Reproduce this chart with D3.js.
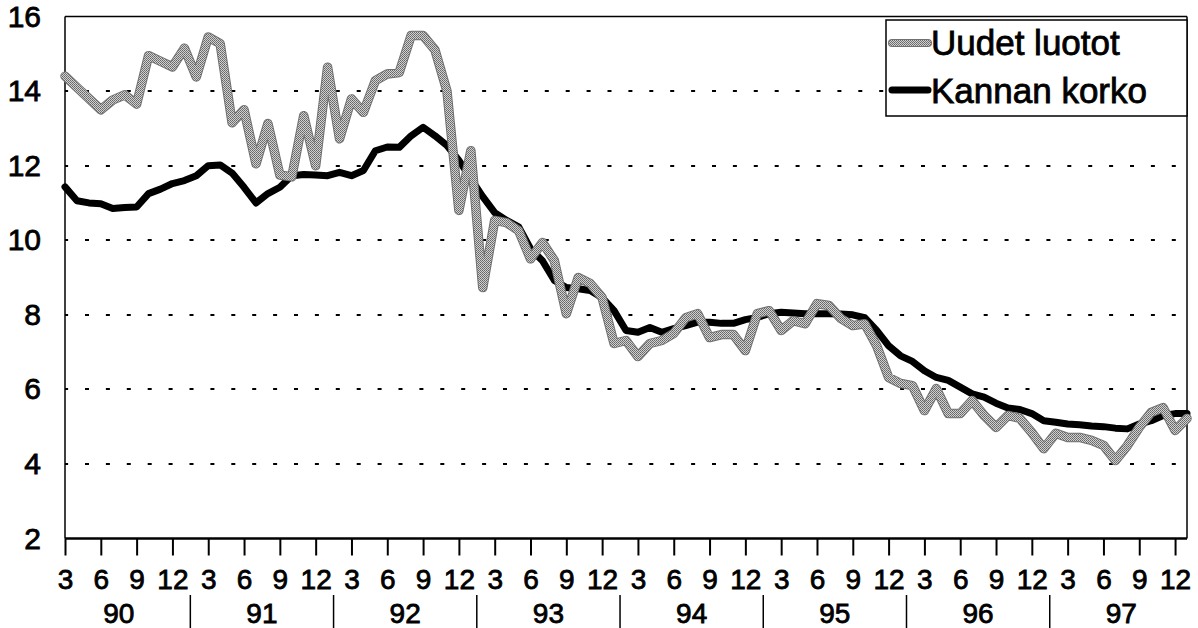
<!DOCTYPE html>
<html><head><meta charset="utf-8">
<script src="https://cdn.jsdelivr.net/npm/d3@7"></script>
<style>html,body{margin:0;padding:0;background:#fff;}svg{display:block;font-family:"Liberation Sans",Arial,sans-serif;}
text{stroke:#000;stroke-width:0.8px;}</style>
</head><body>
<svg id="chart" width="1198" height="628"></svg>
<script>
// Monthly data, March 1990 .. January 1998
const startYear = 1990;
const startMonth = 3;
const uudetLuotot = [
 14.4,14.1,13.8,13.5,13.76,13.9,13.65,14.95,14.8,14.65,15.15,14.38,
 15.45,15.27,13.15,13.5,12.05,13.13,11.75,11.7,13.34,12.0,14.64,12.72,
 13.79,13.43,14.28,14.46,14.5,15.49,15.49,15.1,14.0,10.8,12.4,8.73,
 10.53,10.47,10.26,9.5,9.94,9.45,8.03,9.0,8.84,8.46,7.23,7.31,
 6.88,7.23,7.31,7.5,7.92,8.03,7.39,7.47,7.47,7.04,8.03,8.11,
 7.58,7.84,7.76,8.3,8.25,7.9,7.71,7.76,7.17,6.32,6.16,6.1,
 5.43,6.02,5.35,5.35,5.7,5.3,4.98,5.3,5.22,4.84,4.41,4.82,
 4.71,4.71,4.63,4.5,4.09,4.49,4.98,5.38,5.51,4.9,5.22
];
const kannanKorko = [
 11.43,11.06,11.0,10.98,10.85,10.88,10.89,11.25,11.37,11.52,11.6,11.73,
 12.0,12.02,11.8,11.42,11.0,11.25,11.42,11.73,11.76,11.75,11.73,11.82,
 11.73,11.87,12.4,12.5,12.49,12.8,13.03,12.8,12.54,12.14,11.65,11.17,
 10.74,10.53,10.36,9.77,9.45,8.92,8.73,8.7,8.65,8.46,8.11,7.58,
 7.53,7.66,7.53,7.63,7.71,7.8,7.8,7.77,7.77,7.87,7.93,8.03,
 8.07,8.05,8.03,8.03,8.03,8.02,8.0,7.92,7.58,7.17,6.9,6.75,
 6.5,6.32,6.24,6.06,5.88,5.79,5.63,5.5,5.46,5.35,5.16,5.12,
 5.07,5.05,5.02,5.0,4.96,4.94,5.07,5.16,5.3,5.35,5.35
];
const seriesNames = ["Uudet luotot","Kannan korko"];
const monthTicks = [3,6,9,12];
const yearLabels = ["90","91","92","93","94","95","96","97"];
const yTicks = [2,4,6,8,10,12,14,16];
const gridValues = [4,6,8,10,12,14];

const svg = d3.select("#chart");
const L = 65, R = 1187, T = 16.5, B = 538.5;
const n = uudetLuotot.length;
const x = d3.scaleLinear().domain([0, n-1]).range([L, R]);
const y = d3.scaleLinear().domain([2,16]).range([B, T]);

// halftone pattern for gray line
const defs = svg.append("defs");
const pat = defs.append("pattern").attr("id","ht").attr("patternUnits","userSpaceOnUse")
  .attr("width",2).attr("height",2);
pat.append("rect").attr("width",2).attr("height",2).attr("fill","#d0d0d0");
pat.append("rect").attr("width",1).attr("height",1).attr("fill","#666");
pat.append("rect").attr("x",1).attr("y",1).attr("width",1).attr("height",1).attr("fill","#777");

// grid
svg.append("g").selectAll("line").data(gridValues).join("line")
  .attr("x1",L).attr("x2",R).attr("y1",d=>Math.round(y(d))).attr("y2",d=>Math.round(y(d)))
  .attr("stroke","#000").attr("stroke-width",2)
  .attr("stroke-dasharray","4,16.9").attr("stroke-dashoffset",0.9);

// frame
svg.append("line").attr("x1",L).attr("x2",R).attr("y1",T).attr("y2",T).attr("stroke","#000").attr("stroke-width",1.5);
svg.append("line").attr("x1",R).attr("x2",R).attr("y1",T).attr("y2",B).attr("stroke","#000").attr("stroke-width",1.5);

// x axis with quarterly ticks
const tickIdx = d3.range(n).filter(i => monthTicks.includes(((startMonth - 1 + i) % 12) + 1));
const xAxis = d3.axisBottom(x).tickValues(tickIdx).tickSize(17).tickPadding(14)
  .tickFormat(i => String(((startMonth - 1 + i) % 12) + 1));
const gx = svg.append("g").attr("transform",`translate(0,${B})`).call(xAxis);
gx.select(".domain").attr("stroke-width",2.5).attr("d",`M${L},0H${R}`);
gx.selectAll(".tick line").attr("stroke-width",2);
gx.selectAll(".tick text").attr("font-size",28).attr("font-family","Liberation Sans, Arial, sans-serif").attr("fill","#000");

// y axis
const yAxis = d3.axisLeft(y).tickValues(yTicks).tickSize(0).tickPadding(24).tickFormat(d3.format("d"));
const gy = svg.append("g").attr("transform",`translate(${L},0)`).call(yAxis);
gy.select(".domain").attr("stroke-width",1.5).attr("d",`M0,${T}V${B}`);
gy.selectAll(".tick text").attr("font-size",30).attr("font-family","Liberation Sans, Arial, sans-serif").attr("fill","#000");

// year separators and labels
yearLabels.forEach((lab, k) => {
  const sep = 10.5 + 12*k - 12; // Jan/Feb boundary before the year
  const center = sep + 6;
  if (k > 0) {
    svg.append("line").attr("x1",x(sep)).attr("x2",x(sep)).attr("y1",595).attr("y2",628)
      .attr("stroke","#000").attr("stroke-width",1.5);
  }
  svg.append("text").attr("x",x(center)).attr("y",623).attr("text-anchor","middle")
    .attr("font-size",28).text(lab);
});

// lines
const line = d3.line().x((d,i)=>x(i)).y(d=>y(d));
svg.append("path").datum(kannanKorko).attr("d",line).attr("fill","none")
  .attr("stroke","#000").attr("stroke-width",7).attr("stroke-linejoin","round").attr("stroke-linecap","round");
svg.append("path").datum(uudetLuotot).attr("d",line).attr("fill","none")
  .attr("stroke","#707070").attr("stroke-width",9.5).attr("stroke-linejoin","round").attr("stroke-linecap","round");
svg.append("path").datum(uudetLuotot).attr("d",line).attr("fill","none")
  .attr("stroke","url(#ht)").attr("stroke-width",7.5).attr("stroke-linejoin","round").attr("stroke-linecap","round");

// legend
const lg = svg.append("g");
lg.append("rect").attr("x",886).attr("y",20).attr("width",R-886).attr("height",96)
  .attr("fill","#fff").attr("stroke","#000").attr("stroke-width",1.5);
lg.append("line").attr("x1",892).attr("x2",928).attr("y1",43).attr("y2",43)
  .attr("stroke","#707070").attr("stroke-width",8).attr("stroke-linecap","round");
lg.append("line").attr("x1",892).attr("x2",928).attr("y1",43).attr("y2",43)
  .attr("stroke","url(#ht)").attr("stroke-width",6).attr("stroke-linecap","round");
lg.append("line").attr("x1",892).attr("x2",928).attr("y1",90).attr("y2",90)
  .attr("stroke","#000").attr("stroke-width",7).attr("stroke-linecap","round");
lg.append("text").attr("x",931).attr("y",55).attr("font-size",35).text(seriesNames[0]);
lg.append("text").attr("x",931).attr("y",103).attr("font-size",35).text(seriesNames[1]);
</script>
</body></html>
